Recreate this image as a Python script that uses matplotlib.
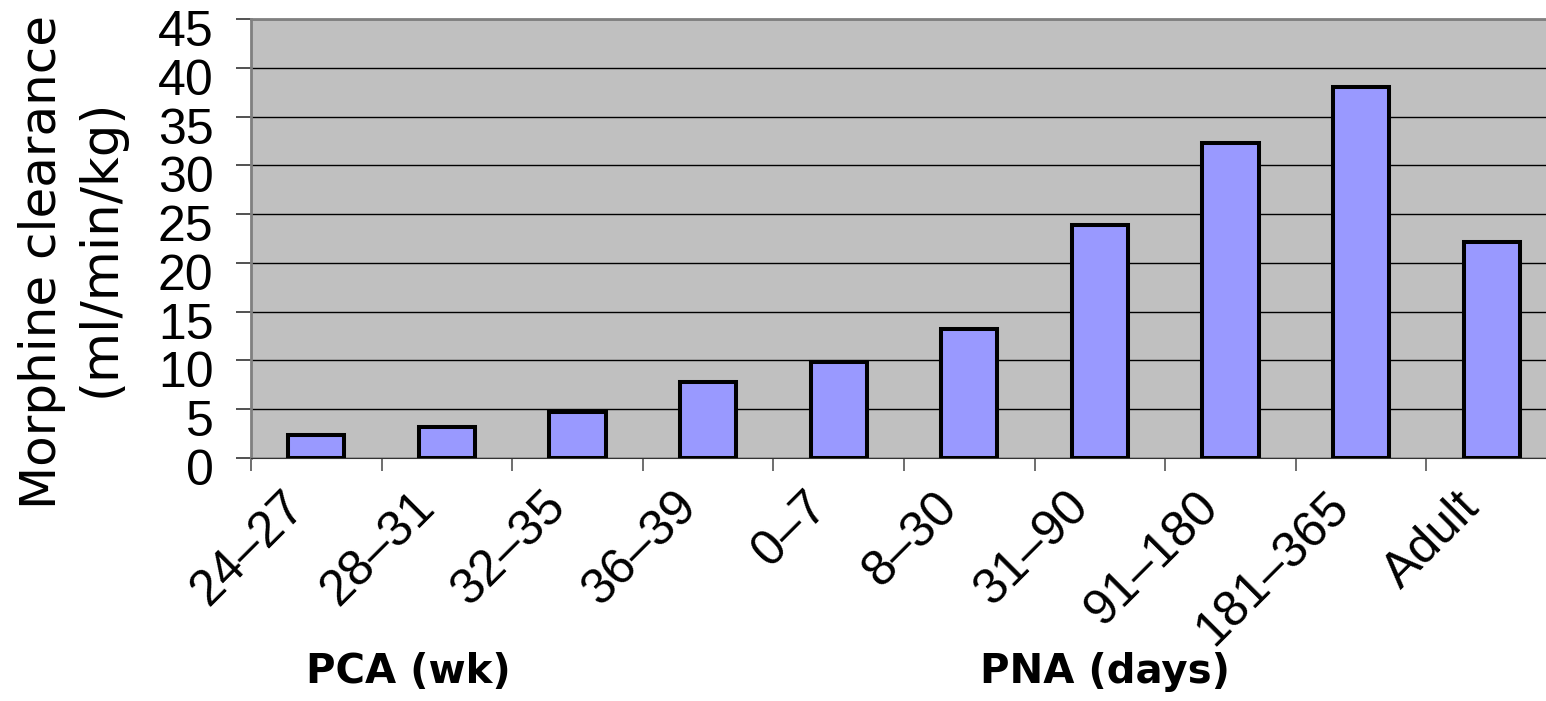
import numpy as np
import matplotlib.pyplot as plt
import matplotlib.transforms as mtransforms

# age bins and measured clearance
categories = ["24\u201327", "28\u201331", "32\u201335", "36\u201339", "0\u20137",
              "8\u201330", "31\u201390", "91\u2013180", "181\u2013365", "Adult"]
clearance = [2.4, 3.2, 4.7, 7.8, 9.8, 13.2, 23.9, 32.3, 38.0, 22.1]
y_ticks = [0, 5, 10, 15, 20, 25, 30, 35, 40, 45]
group_labels = ["PCA (wk)", "PNA (days)"]

W, H = 1546, 701
fig = plt.figure(figsize=(W / 100, H / 100), dpi=100)
# plot area runs a little past the right edge of the picture
left, right, top, bottom = 251, 1557, 19, 458
ax = fig.add_axes([left / W, 1 - bottom / H, (right - left) / W, (bottom - top) / H])
ax.set_facecolor("#C0C0C0")

x = np.arange(len(categories)) + 0.5
ax.bar(x, clearance, width=0.43, color="#9999FF", edgecolor="black", linewidth=2.9, zorder=3)

ax.set_xlim(0, len(categories))
ax.set_ylim(0, 45)
ax.set_yticks(y_ticks)
ax.set_yticklabels([str(v) for v in y_ticks], fontsize=36, family="Liberation Sans")
ax.yaxis.grid(True, color="black", linewidth=1.0, zorder=1)
ax.set_axisbelow(True)

ax.set_xticks(np.arange(len(categories) + 1))
ax.set_xticklabels([])
ax.set_xticks(x, minor=True)
ax.set_xticklabels(categories, minor=True, rotation=45, ha="right", va="center",
                   rotation_mode="anchor", fontsize=36, family="Liberation Sans")
ax.tick_params(axis="x", which="minor", length=0, pad=30)
ax.tick_params(axis="x", which="major", length=9, width=1.2, color="#555555", direction="out")
ax.tick_params(axis="y", length=11, width=1.2, color="#333333", pad=16, direction="out")

# nudge labels the way the original places them
y_shift = mtransforms.ScaledTranslation(0, -9 / 100, fig.dpi_scale_trans)
for lab in ax.get_yticklabels():
    lab.set_transform(lab.get_transform() + y_shift)
x_shift = mtransforms.ScaledTranslation(-19 / 100, 0, fig.dpi_scale_trans)
for lab in ax.get_xticklabels(minor=True):
    lab.set_transform(lab.get_transform() + x_shift)

for side in ["left", "top"]:
    ax.spines[side].set_color("#808080")
    ax.spines[side].set_linewidth(2)
ax.spines["bottom"].set_color("#333333")
ax.spines["right"].set_visible(False)

fig.text(42 / W, 1 - 262 / H, "Morphine clearance", rotation=90, ha="center", va="center",
         fontsize=36, family="DejaVu Sans")
fig.text(101 / W, 1 - 248 / H, "(ml/min/kg)", rotation=90, ha="center", va="center",
         fontsize=37, family="DejaVu Sans")

fig.text(408 / W, 1 - 672 / H, group_labels[0], ha="center", va="center",
         fontsize=29, fontweight="bold", family="DejaVu Sans")
fig.text(1105 / W, 1 - 672 / H, group_labels[1], ha="center", va="center",
         fontsize=29, fontweight="bold", family="DejaVu Sans")

fig.savefig("out.png", dpi=100)
